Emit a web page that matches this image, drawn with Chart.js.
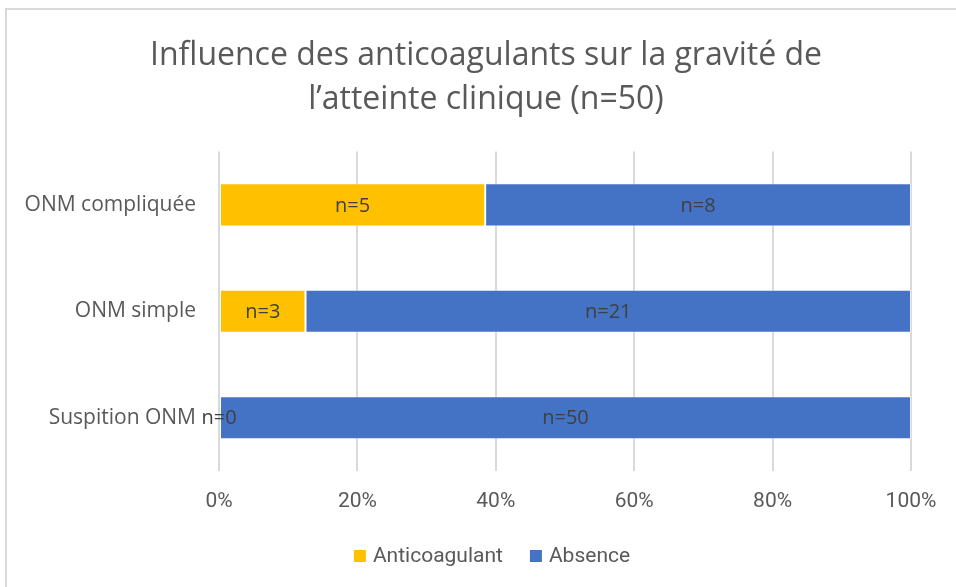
<!DOCTYPE html>
<html>
<head>
<meta charset="utf-8">
<script src="https://cdn.jsdelivr.net/npm/chart.js@4"></script>
<style>
  html, body { margin: 0; padding: 0; background: #fff; }
  #wrap { position: relative; width: 956px; height: 587px; }
</style>
</head>
<body>
<div id="wrap"><canvas id="myChart" width="956" height="587"></canvas></div>
<script>
var categories = ['ONM compliquée', 'ONM simple', 'Suspition ONM'];
var anticoagulant = [5, 3, 0];
var absence = [8, 21, 50];
var xTicks = ['0%', '20%', '40%', '60%', '80%', '100%'];

// 100% stacked: share of each row
function share(part, a, b) {
    return part.map(function (v, i) { return v / (a[i] + b[i]) * 100; });
}

var grey = '#595959';
var sans = '"Open Sans", "Noto Sans", sans-serif';

// frame + white background
var frame = {
    id: 'frame',
    beforeDraw: function (chart) {
        var c = chart.ctx;
        c.save();
        c.fillStyle = '#fff';
        c.fillRect(0, 0, chart.width, chart.height);
        c.strokeStyle = '#d9d9d9';
        c.lineWidth = 2;
        c.strokeRect(6, 9, chart.width + 20, chart.height + 20);
        c.restore();
    }
};

// the title is centred on the whole chart, not on the plot box
var titleShift = {
    id: 'titleShift',
    afterLayout: function (chart) {
        var t = chart.titleBlock;
        if (t) { t.left += 20.5; t.right += 20.5; }
    }
};

// "n=" labels in the middle of each segment
var countLabels = {
    id: 'countLabels',
    afterDatasetsDraw: function (chart) {
        var c = chart.ctx;
        c.save();
        c.font = '20px ' + sans;
        c.fillStyle = '#404040';
        c.textAlign = 'center';
        c.textBaseline = 'middle';
        chart.data.datasets.forEach(function (ds, i) {
            chart.getDatasetMeta(i).data.forEach(function (bar, j) {
                c.fillText('n=' + ds.counts[j], (bar.x + bar.base) / 2, bar.y + 1);
            });
        });
        c.restore();
    }
};

// legend drawn by hand (tighter box/text gap than the built-in one)
var bottomLegend = {
    id: 'bottomLegend',
    afterDraw: function (chart) {
        var c = chart.ctx;
        var box = 12, gap = 7, between = 27, cx = 492, cy = 556;
        c.save();
        c.font = '21px Roboto, sans-serif';
        c.textBaseline = 'middle';
        var ds = chart.data.datasets;
        var total = 0;
        ds.forEach(function (d, i) {
            total += box + gap + c.measureText(d.label).width + (i ? between : 0);
        });
        var x = cx - total / 2;
        ds.forEach(function (d, i) {
            if (i) x += between;
            c.fillStyle = d.backgroundColor;
            c.fillRect(x, cy - box / 2, box, box);
            x += box + gap;
            c.fillStyle = grey;
            c.fillText(d.label, x, cy + 1);
            x += c.measureText(d.label).width;
        });
        c.restore();
    }
};

var ctx = document.getElementById('myChart').getContext('2d');
var chart = new Chart(ctx, {
    type: 'bar',
    data: {
        labels: categories,
        datasets: [{
            label: 'Anticoagulant',
            counts: anticoagulant,
            data: share(anticoagulant, anticoagulant, absence),
            backgroundColor: '#FFC000',
            borderColor: 'rgba(255,255,255,0.5)',
            borderWidth: 1,
            borderSkipped: false
        }, {
            label: 'Absence',
            counts: absence,
            data: share(absence, anticoagulant, absence),
            backgroundColor: '#4472C4',
            borderColor: 'rgba(255,255,255,0.5)',
            borderWidth: 1,
            borderSkipped: false
        }]
    },
    options: {
        indexAxis: 'y',
        responsive: false,
        animation: false,
        barPercentage: 0.81,
        categoryPercentage: 0.5,
        layout: { padding: { left: 20, right: 45, top: 33, bottom: 73 } },
        plugins: {
            title: {
                display: true,
                text: ['Influence des anticoagulants sur la gravité de', 'l’atteinte clinique (n=50)'],
                color: grey,
                font: { family: sans, size: 32, weight: 'normal', lineHeight: 1.4 },
                padding: { top: 0, bottom: 29 }
            },
            legend: { display: false },
            tooltip: { enabled: false }
        },
        scales: {
            x: {
                stacked: true,
                min: 0,
                max: 100,
                grid: { color: '#d9d9d9', lineWidth: 2, drawTicks: false },
                border: { display: false },
                ticks: {
                    stepSize: 20,
                    color: grey,
                    padding: 18,
                    font: { family: 'Roboto, sans-serif', size: 21 },
                    callback: function (v, i) { return xTicks[i]; }
                },
                afterFit: function (scale) { scale.height = 43; }
            },
            y: {
                stacked: true,
                grid: { display: false },
                border: { display: false },
                ticks: {
                    color: grey,
                    padding: 15,
                    font: { family: sans, size: 21 }
                },
                afterFit: function (scale) { scale.width = 199; }
            }
        }
    },
    plugins: [frame, titleShift, countLabels, bottomLegend]
});
</script>
</body>
</html>
